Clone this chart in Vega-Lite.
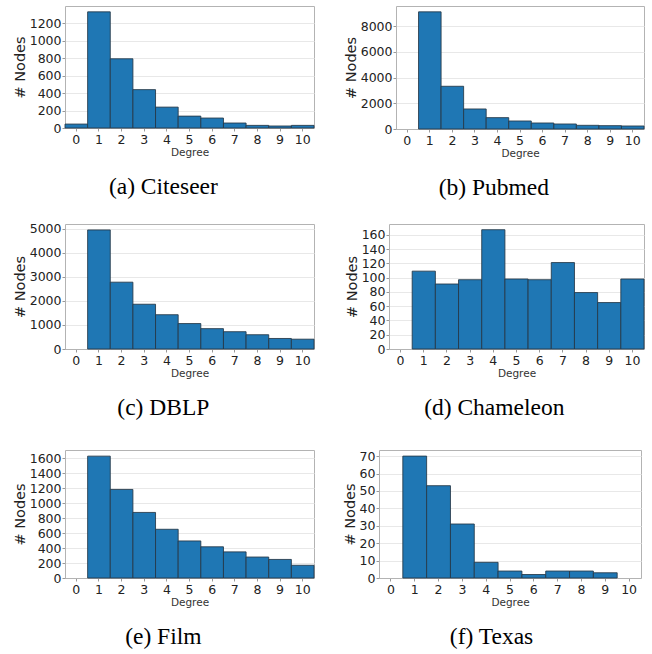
{
  "$schema": "https://vega.github.io/schema/vega-lite/v6.json",
  "padding": {"left": 11, "top": 5, "right": 0, "bottom": 0},
  "background": "white",
  "config": {
    "view": {"stroke": "#b3b3b3", "strokeWidth": 1},
    "title": {"orient": "bottom", "anchor": "middle", "frame": "bounds", "font": "Liberation Serif", "fontSize": 23.5, "fontWeight": "normal", "color": "#000000", "offset": 17},
    "bar": {"fill": "#1f77b4", "stroke": "#253746", "strokeWidth": 1, "strokeOpacity": 0.85}
  },
  "datasets": {
    "citeseer": [
      {"degree": 0, "nodes": 45}, {"degree": 1, "nodes": 1329}, {"degree": 2, "nodes": 792},
      {"degree": 3, "nodes": 439}, {"degree": 4, "nodes": 239}, {"degree": 5, "nodes": 136},
      {"degree": 6, "nodes": 114}, {"degree": 7, "nodes": 57}, {"degree": 8, "nodes": 30},
      {"degree": 9, "nodes": 23}, {"degree": 10, "nodes": 30}
    ],
    "pubmed": [
      {"degree": 1, "nodes": 9117}, {"degree": 2, "nodes": 3325},
      {"degree": 3, "nodes": 1558}, {"degree": 4, "nodes": 883}, {"degree": 5, "nodes": 623},
      {"degree": 6, "nodes": 468}, {"degree": 7, "nodes": 390}, {"degree": 8, "nodes": 286},
      {"degree": 9, "nodes": 260}, {"degree": 10, "nodes": 234}
    ],
    "dblp": [
      {"degree": 1, "nodes": 4944}, {"degree": 2, "nodes": 2775},
      {"degree": 3, "nodes": 1859}, {"degree": 4, "nodes": 1423}, {"degree": 5, "nodes": 1056},
      {"degree": 6, "nodes": 845}, {"degree": 7, "nodes": 718}, {"degree": 8, "nodes": 592},
      {"degree": 9, "nodes": 437}, {"degree": 10, "nodes": 408}
    ],
    "chameleon": [
      {"degree": 1, "nodes": 109}, {"degree": 2, "nodes": 91},
      {"degree": 3, "nodes": 97}, {"degree": 4, "nodes": 167}, {"degree": 5, "nodes": 98},
      {"degree": 6, "nodes": 97}, {"degree": 7, "nodes": 121}, {"degree": 8, "nodes": 79},
      {"degree": 9, "nodes": 65}, {"degree": 10, "nodes": 98}
    ],
    "film": [
      {"degree": 1, "nodes": 1628}, {"degree": 2, "nodes": 1183},
      {"degree": 3, "nodes": 876}, {"degree": 4, "nodes": 651}, {"degree": 5, "nodes": 495},
      {"degree": 6, "nodes": 417}, {"degree": 7, "nodes": 349}, {"degree": 8, "nodes": 280},
      {"degree": 9, "nodes": 248}, {"degree": 10, "nodes": 170}
    ],
    "texas": [
      {"degree": 1, "nodes": 70}, {"degree": 2, "nodes": 53},
      {"degree": 3, "nodes": 31}, {"degree": 4, "nodes": 9}, {"degree": 5, "nodes": 4},
      {"degree": 6, "nodes": 2}, {"degree": 7, "nodes": 4}, {"degree": 8, "nodes": 4},
      {"degree": 9, "nodes": 3}
    ]
  },
  "spacing": 22,
  "vconcat": [
    {
      "spacing": 27,
      "hconcat": [
        {
          "data": {"name": "citeseer"}, "width": 249, "height": 122,
          "title": "(a) Citeseer",
          "mark": "bar",
          "encoding": {
            "x": {"field": "degree", "type": "ordinal", "title": "Degree", "scale": {"domain": [0,1,2,3,4,5,6,7,8,9,10], "paddingInner": 0, "paddingOuter": 0},
              "axis": {"labelAngle": 0, "labelFont": "DejaVu Sans", "labelFontSize": 12.5, "labelColor": "#222222", "labelPadding": 2, "tickSize": 3, "tickColor": "#999999", "domainColor": "#b3b3b3", "titleFont": "DejaVu Sans", "titleFontSize": 10.5, "titleFontWeight": "normal", "titleColor": "#333333", "titlePadding": 2, "grid": false}},
            "y": {"field": "nodes", "type": "quantitative", "title": "# Nodes", "scale": {"domain": [0, 1396], "nice": false},
              "axis": {"values": [0,200,400,600,800,1000,1200], "format": "d", "labelFont": "DejaVu Sans", "labelFontSize": 12.5, "labelColor": "#222222", "labelPadding": 1, "tickSize": 3, "tickColor": "#999999", "domain": false, "titleFont": "DejaVu Sans", "titleFontSize": 14.5, "titleFontWeight": "normal", "titleColor": "#222222", "titlePadding": 2, "grid": true, "gridColor": "#e8e8e8"}}
          }
        },
        {
          "data": {"name": "pubmed"}, "width": 248, "height": 123,
          "title": "(b) Pubmed",
          "mark": "bar",
          "encoding": {
            "x": {"field": "degree", "type": "ordinal", "title": "Degree", "scale": {"domain": [0,1,2,3,4,5,6,7,8,9,10], "paddingInner": 0, "paddingOuter": 0},
              "axis": {"labelAngle": 0, "labelFont": "DejaVu Sans", "labelFontSize": 12.5, "labelColor": "#222222", "labelPadding": 2, "tickSize": 3, "tickColor": "#999999", "domainColor": "#b3b3b3", "titleFont": "DejaVu Sans", "titleFontSize": 10.5, "titleFontWeight": "normal", "titleColor": "#333333", "titlePadding": 2, "grid": false}},
            "y": {"field": "nodes", "type": "quantitative", "title": "# Nodes", "scale": {"domain": [0, 9573], "nice": false},
              "axis": {"values": [0,2000,4000,6000,8000], "format": "d", "labelFont": "DejaVu Sans", "labelFontSize": 12.5, "labelColor": "#222222", "labelPadding": 1, "tickSize": 3, "tickColor": "#999999", "domain": false, "titleFont": "DejaVu Sans", "titleFontSize": 14.5, "titleFontWeight": "normal", "titleColor": "#222222", "titlePadding": 2, "grid": true, "gridColor": "#e8e8e8"}}
          }
        }
      ]
    },
    {
      "spacing": 29,
      "vconcat": [
        {
          "spacing": 28,
          "hconcat": [
            {
              "data": {"name": "dblp"}, "width": 249, "height": 125,
              "title": "(c) DBLP",
              "mark": "bar",
              "encoding": {
                "x": {"field": "degree", "type": "ordinal", "title": "Degree", "scale": {"domain": [0,1,2,3,4,5,6,7,8,9,10], "paddingInner": 0, "paddingOuter": 0},
                  "axis": {"labelAngle": 0, "labelFont": "DejaVu Sans", "labelFontSize": 12.5, "labelColor": "#222222", "labelPadding": 2, "tickSize": 3, "tickColor": "#999999", "domainColor": "#b3b3b3", "titleFont": "DejaVu Sans", "titleFontSize": 10.5, "titleFontWeight": "normal", "titleColor": "#333333", "titlePadding": 2, "grid": false}},
                "y": {"field": "nodes", "type": "quantitative", "title": "# Nodes", "scale": {"domain": [0, 5191], "nice": false},
                  "axis": {"values": [0,1000,2000,3000,4000,5000], "format": "d", "labelFont": "DejaVu Sans", "labelFontSize": 12.5, "labelColor": "#222222", "labelPadding": 1, "tickSize": 3, "tickColor": "#999999", "domain": false, "titleFont": "DejaVu Sans", "titleFontSize": 14.5, "titleFontWeight": "normal", "titleColor": "#222222", "titlePadding": 2, "grid": true, "gridColor": "#e8e8e8"}}
              }
            },
            {
              "data": {"name": "chameleon"}, "width": 255, "height": 125,
              "title": "(d) Chameleon",
              "mark": "bar",
              "encoding": {
                "x": {"field": "degree", "type": "ordinal", "title": "Degree", "scale": {"domain": [0,1,2,3,4,5,6,7,8,9,10], "paddingInner": 0, "paddingOuter": 0},
                  "axis": {"labelAngle": 0, "labelFont": "DejaVu Sans", "labelFontSize": 12.5, "labelColor": "#222222", "labelPadding": 2, "tickSize": 3, "tickColor": "#999999", "domainColor": "#b3b3b3", "titleFont": "DejaVu Sans", "titleFontSize": 10.5, "titleFontWeight": "normal", "titleColor": "#333333", "titlePadding": 2, "grid": false}},
                "y": {"field": "nodes", "type": "quantitative", "title": "# Nodes", "scale": {"domain": [0, 175], "nice": false},
                  "axis": {"values": [0,20,40,60,80,100,120,140,160], "format": "d", "labelFont": "DejaVu Sans", "labelFontSize": 12.5, "labelColor": "#222222", "labelPadding": 1, "tickSize": 3, "tickColor": "#999999", "domain": false, "titleFont": "DejaVu Sans", "titleFontSize": 14.5, "titleFontWeight": "normal", "titleColor": "#222222", "titlePadding": 2, "grid": true, "gridColor": "#e8e8e8"}}
              }
            }
          ]
        },
        {
          "spacing": 26,
          "hconcat": [
            {
              "data": {"name": "film"}, "width": 249, "height": 128,
              "title": "(e) Film",
              "mark": "bar",
              "encoding": {
                "x": {"field": "degree", "type": "ordinal", "title": "Degree", "scale": {"domain": [0,1,2,3,4,5,6,7,8,9,10], "paddingInner": 0, "paddingOuter": 0},
                  "axis": {"labelAngle": 0, "labelFont": "DejaVu Sans", "labelFontSize": 12.5, "labelColor": "#222222", "labelPadding": 2, "tickSize": 3, "tickColor": "#999999", "domainColor": "#b3b3b3", "titleFont": "DejaVu Sans", "titleFontSize": 10.5, "titleFontWeight": "normal", "titleColor": "#333333", "titlePadding": 2, "grid": false}},
                "y": {"field": "nodes", "type": "quantitative", "title": "# Nodes", "scale": {"domain": [0, 1710], "nice": false},
                  "axis": {"values": [0,200,400,600,800,1000,1200,1400,1600], "format": "d", "labelFont": "DejaVu Sans", "labelFontSize": 12.5, "labelColor": "#222222", "labelPadding": 1, "tickSize": 3, "tickColor": "#999999", "domain": false, "titleFont": "DejaVu Sans", "titleFontSize": 14.5, "titleFontWeight": "normal", "titleColor": "#222222", "titlePadding": 2, "grid": true, "gridColor": "#e8e8e8"}}
              }
            },
            {
              "data": {"name": "texas"}, "width": 262, "height": 128,
              "title": "(f) Texas",
              "mark": "bar",
              "encoding": {
                "x": {"field": "degree", "type": "ordinal", "title": "Degree", "scale": {"domain": [0,1,2,3,4,5,6,7,8,9,10], "paddingInner": 0, "paddingOuter": 0},
                  "axis": {"labelAngle": 0, "labelFont": "DejaVu Sans", "labelFontSize": 12.5, "labelColor": "#222222", "labelPadding": 2, "tickSize": 3, "tickColor": "#999999", "domainColor": "#b3b3b3", "titleFont": "DejaVu Sans", "titleFontSize": 10.5, "titleFontWeight": "normal", "titleColor": "#333333", "titlePadding": 2, "grid": false}},
                "y": {"field": "nodes", "type": "quantitative", "title": "# Nodes", "scale": {"domain": [0, 73.5], "nice": false},
                  "axis": {"values": [0,10,20,30,40,50,60,70], "format": "d", "labelFont": "DejaVu Sans", "labelFontSize": 12.5, "labelColor": "#222222", "labelPadding": 1, "tickSize": 3, "tickColor": "#999999", "domain": false, "titleFont": "DejaVu Sans", "titleFontSize": 14.5, "titleFontWeight": "normal", "titleColor": "#222222", "titlePadding": 2, "grid": true, "gridColor": "#e8e8e8"}}
              }
            }
          ]
        }
      ]
    }
  ]
}
